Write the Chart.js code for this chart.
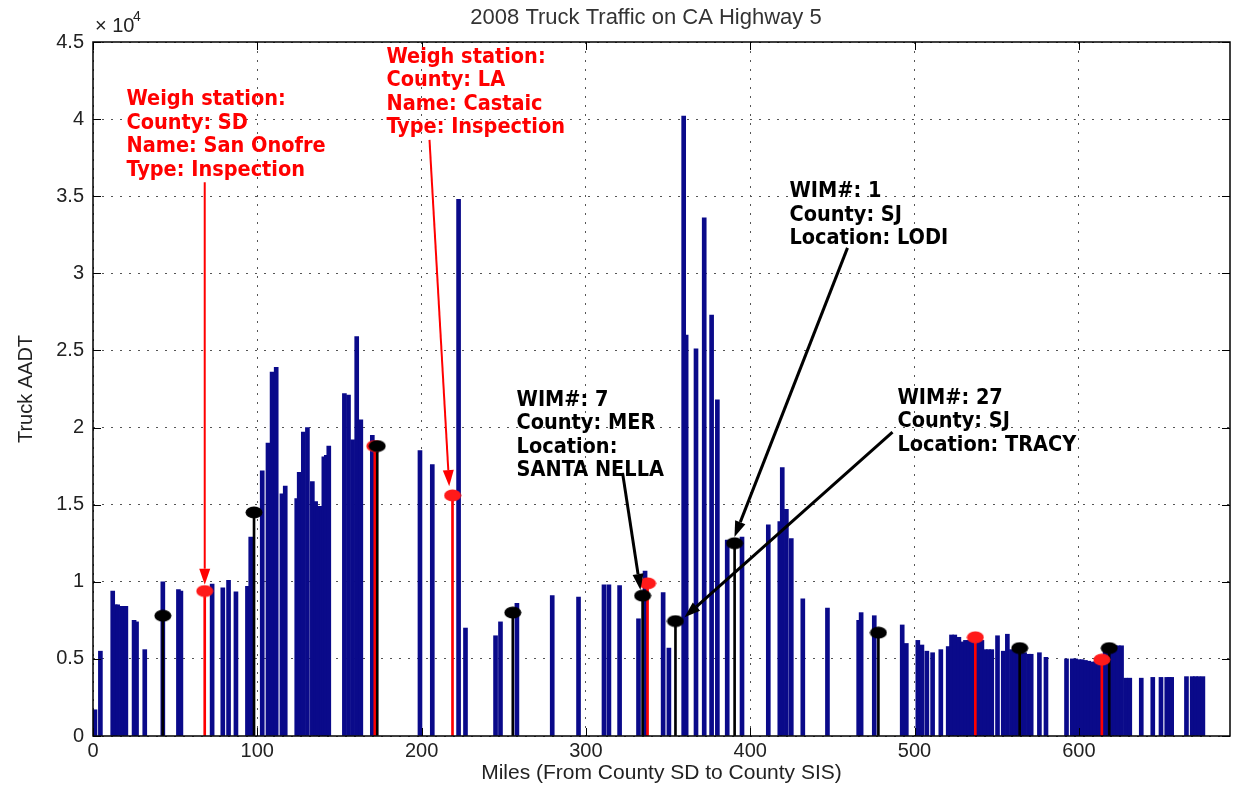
<!DOCTYPE html>
<html>
<head>
<meta charset="utf-8">
<script src="https://cdn.jsdelivr.net/npm/chart.js@4.4.1/dist/chart.umd.min.js"></script>
<style>
  html, body { margin: 0; padding: 0; background: #fff; }
</style>
</head>
<body>
<canvas id="traffic-chart" width="1238" height="791"></canvas>
<script>
// 2008 truck AADT along CA Highway 5 (miles from county SD)

const barMiles = [
  1.2, 4.5, 12, 13.5, 15, 17.5, 20, 25, 26.5, 31.5, 42.5, 52, 53.5, 72.5, 79, 82.5, 87, 94, 96,
  103, 106.5, 109, 111.5, 115, 117, 124, 125.5, 128, 130.5, 133.5, 135.5, 137, 139, 140.5, 142, 143.5,
  153, 155.5, 158, 160.5, 163, 170, 199, 206.5, 222.5, 226.7, 245, 248, 258, 279.5, 295.5,
  311, 314, 320.5, 332, 336, 347, 350.5, 359.5, 361, 367, 372, 376.5, 380, 386, 395,
  411, 418, 419.5, 422, 425, 432, 447, 466, 467.5, 475.5, 492.5, 495,
  502, 504.5, 507.5, 511, 516, 520.5, 522.5, 524.5, 527, 529, 531, 533, 535, 537, 539, 541, 543, 545, 547,
  550.5, 554, 556.5, 559, 561, 563, 565, 567, 569.5, 571, 576, 580, 592.5, 596, 598,
  600, 602, 604, 606, 608, 610, 612, 614, 616, 618, 620, 622, 624, 626, 628.5, 631, 638,
  645, 650, 653.5, 655, 656.5, 665.5, 669, 671, 673, 675.5
];
const barAadt = [
  1700, 5500, 9400, 8500, 8500, 8400, 8400, 7500, 7400, 5600, 10000, 9500, 9400, 9850, 9600, 10100, 9350, 9700, 12900,
  17200, 19000, 23600, 23900, 15700, 16200, 15400, 17100, 19700, 20000, 16500, 15200, 14900, 14900, 18100, 18200, 18800,
  22200, 22100, 19200, 25900, 20500, 19500, 18500, 17600, 34800, 7000, 6500, 7400, 8600, 9100, 9000,
  9800, 9800, 9750, 7600, 10700, 9300, 5700, 40200, 26000, 25100, 33600, 27300, 21800, 12700, 12900,
  13700, 13900, 17400, 14700, 12800, 8900, 8300, 7500, 8000, 7800, 7200, 6000,
  6200, 5900, 5500, 5400, 5600, 5800, 6550, 6550, 6400, 6100, 6200, 6200, 6200, 6200, 6200, 6200, 5600, 5600, 5600,
  6500, 5500, 6600, 5600, 5600, 5600, 5400, 5400, 5300, 5300, 5400, 5100, 5000, 5000, 5000,
  4950, 4950, 4900, 4850, 4800, 4800, 4800, 4800, 5850, 5850, 5850, 5850, 5850, 5850, 3750, 3750, 3750,
  3800, 3800, 3800, 3800, 3800, 3850, 3850, 3850, 3850, 3850
];

// WIM sites (black) and weigh stations (red)
const wimMiles   = [42.5, 98, 173, 255.5, 334.5, 354.5, 390.5, 478, 564, 618.5];
const wimAadt    = [7800, 14500, 18800, 8000, 9100, 7450, 12500, 6700, 5700, 5700];
const weighMiles = [68, 171.5, 218.8, 337.5, 537, 614];
const weighAadt  = [9400, 18800, 15600, 9900, 6400, 4950];

const xTicks = [0, 100, 200, 300, 400, 500, 600];
const yTicks = [0, 5000, 10000, 15000, 20000, 25000, 30000, 35000, 40000, 45000];

// callouts: text anchor (top line), arrow from -> to, all in data units
const callouts = [
  { color: "#ff0000", at: [20.4, 41250], from: [68, 35900], to: [68, 9800],
    lines: ["Weigh station:", "County: SD", "Name: San Onofre", "Type: Inspection"] },
  { color: "#ff0000", at: [178.6, 44030], from: [204.8, 38650], to: [216.8, 16200],
    lines: ["Weigh station:", "County: LA", "Name: Castaic", "Type: Inspection"] },
  { color: "#000000", at: [257.8, 21790], from: [322.3, 17060], to: [333.2, 9470],
    lines: ["WIM#: 7", "County: MER", "Location:", "SANTA NELLA"] },
  { color: "#000000", at: [423.9, 35280], from: [459.2, 31650], to: [390.4, 12900],
    lines: ["WIM#: 1", "County: SJ", "Location: LODI"] },
  { color: "#000000", at: [489.6, 21920], from: [486.6, 19700], to: [360, 7700],
    lines: ["WIM#: 27", "County: SJ", "Location: TRACY"] },
];

const NAVY = "#0a0a8a";
const AXIS_FONT = "'Liberation Sans', Arial, sans-serif";
const NOTE_FONT = "bold 21.5px 'DejaVu Sans Condensed', 'DejaVu Sans', sans-serif";

function pts(xs, ys) { return xs.map((x, i) => ({ x: x, y: ys[i] })); }

function ellipseDot(color) {
  const c = document.createElement("canvas");
  c.width = 18; c.height = 13;
  const g = c.getContext("2d");
  g.fillStyle = color;
  g.beginPath();
  g.ellipse(9, 6.5, 8.5, 6, 0, 0, Math.PI * 2);
  g.fill();
  return c;
}

function drawArrow(ctx, x1, y1, x2, y2, color, width) {
  const ang = Math.atan2(y2 - y1, x2 - x1);
  const len = 16, half = 5.5;
  const bx = x2 - len * Math.cos(ang), by = y2 - len * Math.sin(ang);
  ctx.strokeStyle = color;
  ctx.fillStyle = color;
  ctx.lineWidth = width;
  ctx.beginPath();
  ctx.moveTo(x1, y1);
  ctx.lineTo(bx, by);
  ctx.stroke();
  ctx.beginPath();
  ctx.moveTo(x2, y2);
  ctx.lineTo(bx + half * Math.sin(ang), by - half * Math.cos(ang));
  ctx.lineTo(bx - half * Math.sin(ang), by + half * Math.cos(ang));
  ctx.closePath();
  ctx.fill();
}

// box, inward ticks, title, exponent and callouts
const matlabFrame = {
  id: "matlabFrame",
  afterDraw(chart) {
    const { ctx, chartArea: a, scales: { x, y } } = chart;
    ctx.save();
    ctx.strokeStyle = "#000";
    ctx.lineWidth = 1;
    ctx.beginPath();
    yTicks.forEach(v => {
      const py = Math.round(y.getPixelForValue(v)) + 0.5;
      ctx.moveTo(a.left, py); ctx.lineTo(a.left + 8, py);
      ctx.moveTo(a.right, py); ctx.lineTo(a.right - 8, py);
    });
    xTicks.forEach(v => {
      const px = Math.round(x.getPixelForValue(v)) + 0.5;
      ctx.moveTo(px, a.bottom); ctx.lineTo(px, a.bottom - 8);
      ctx.moveTo(px, a.top); ctx.lineTo(px, a.top + 8);
    });
    ctx.stroke();
    ctx.lineWidth = 1.5;
    ctx.strokeRect(a.left, a.top, a.right - a.left, a.bottom - a.top);

    // title + exponent
    ctx.fillStyle = "#333";
    ctx.font = "22px " + AXIS_FONT;
    ctx.textAlign = "center";
    ctx.textBaseline = "middle";
    ctx.fillText("2008 Truck Traffic on CA Highway 5", 646, 18);
    ctx.fillStyle = "#222";
    ctx.textAlign = "left";
    ctx.font = "20px " + AXIS_FONT;
    ctx.fillText("\u00d7 10", a.left + 2, 26);
    ctx.font = "14px " + AXIS_FONT;
    ctx.fillText("4", a.left + 2 + 38, 17);

    // callouts
    callouts.forEach(c => {
      drawArrow(ctx, x.getPixelForValue(c.from[0]), y.getPixelForValue(c.from[1]),
                x.getPixelForValue(c.to[0]), y.getPixelForValue(c.to[1]),
                c.color, c.color === "#000000" ? 3 : 2);
      ctx.font = NOTE_FONT;
      ctx.fillStyle = c.color;
      ctx.textAlign = "left";
      ctx.textBaseline = "middle";
      const tx = x.getPixelForValue(c.at[0]), ty = y.getPixelForValue(c.at[1]);
      c.lines.forEach((s, i) => ctx.fillText(s, tx, ty + i * 23.5));
    });
    ctx.restore();
  }
};

const ctx = document.getElementById("traffic-chart");

new Chart(ctx, {
  type: "bar",
  data: {
    datasets: [
      { type: "scatter", label: "WIM", data: pts(wimMiles, wimAadt),
        pointStyle: ellipseDot("#000"), order: 0 },
      { type: "scatter", label: "Weigh station", data: pts(weighMiles, weighAadt),
        pointStyle: ellipseDot("#ff1a1a"), order: 1 },
      { label: "WIM line", data: pts(wimMiles, wimAadt), backgroundColor: "#000",
        barThickness: 2, grouped: false, order: 2 },
      { label: "Weigh line", data: pts(weighMiles, weighAadt), backgroundColor: "#ff0000",
        barThickness: 2, grouped: false, order: 3 },
      { label: "Truck AADT", data: pts(barMiles, barAadt), backgroundColor: NAVY,
        barThickness: 4, grouped: false, order: 4 },
    ],
  },
  options: {
    responsive: false,
    animation: false,
    devicePixelRatio: 1,
    events: [],
    layout: { padding: { top: 42, right: 8, bottom: 0, left: 0 } },
    plugins: {
      legend: { display: false },
      tooltip: { enabled: false },
      title: { display: false },
    },
    scales: {
      x: {
        type: "linear",
        min: 0,
        max: 692,
        offset: false,
        afterBuildTicks: s => { s.ticks = xTicks.map(v => ({ value: v })); },
        afterFit: s => { s.height = 55; },
        ticks: { font: { family: AXIS_FONT, size: 20 }, color: "#222", padding: 3, maxRotation: 0 },
        grid: { color: "#555", lineWidth: 1, drawTicks: false, offset: false },
        border: { display: false, dash: [2, 7] },
        title: { display: true, text: "Miles (From County SD to County SIS)",
                 font: { family: AXIS_FONT, size: 21 }, color: "#222", padding: { top: 0, bottom: 5 } },
      },
      y: {
        min: 0,
        max: 45000,
        afterBuildTicks: s => { s.ticks = yTicks.map(v => ({ value: v })); },
        afterFit: s => { s.width = 93; },
        ticks: { font: { family: AXIS_FONT, size: 20 }, color: "#222", padding: 9,
                 callback: v => String(v / 10000) },
        grid: { color: "#555", lineWidth: 1, drawTicks: false },
        border: { display: false, dash: [2, 7] },
        title: { display: true, text: "Truck AADT",
                 font: { family: AXIS_FONT, size: 20 }, color: "#222", padding: { top: 14, bottom: 0 } },
      },
    },
  },
  plugins: [matlabFrame],
});
</script>
</body>
</html>
